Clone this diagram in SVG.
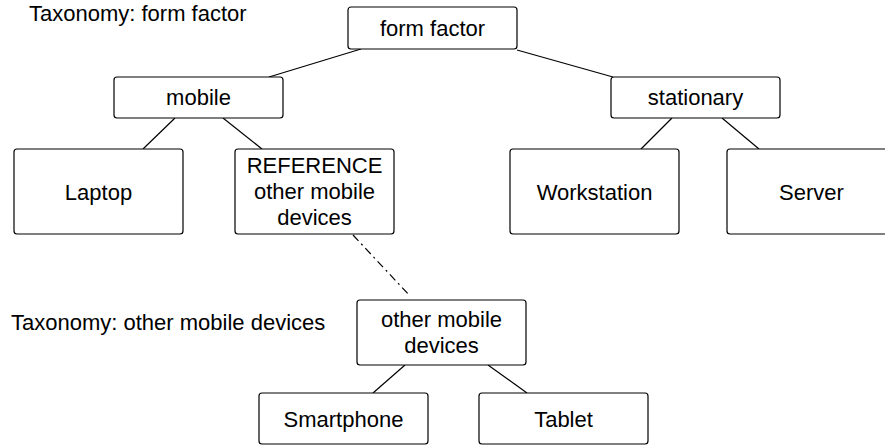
<svg xmlns="http://www.w3.org/2000/svg" width="885" height="446" viewBox="0 0 885 446">
<style>
.box{fill:#fff;stroke:#000;stroke-width:1.2}
.t{font-family:"Liberation Sans",Arial,Helvetica,sans-serif;font-size:22px;fill:#000;text-anchor:middle}
.lbl{font-family:"Liberation Sans",Arial,Helvetica,sans-serif;font-size:22px;fill:#000}
.c{stroke:#000;stroke-width:1.2;fill:none}
.dd{stroke-dasharray:8 4 2 4}
</style>
<rect width="885" height="446" fill="#fff"/>
<g id="connectors">
<line class="c" x1="361" y1="49" x2="269" y2="77"/>
<line class="c" x1="517" y1="50" x2="613" y2="77"/>
<line class="c" x1="175" y1="118" x2="143" y2="149"/>
<line class="c" x1="223" y1="118" x2="262" y2="149"/>
<line class="c" x1="672" y1="118" x2="641" y2="149"/>
<line class="c" x1="722" y1="118" x2="759" y2="149"/>
<line class="c dd" x1="353" y1="235" x2="410" y2="296"/>
<line class="c" x1="405" y1="365" x2="373" y2="393"/>
<line class="c" x1="488" y1="365" x2="527" y2="393"/>
</g>
<g id="label-form-factor"><text class="lbl" x="29" y="20.5">Taxonomy: form factor</text></g>
<g id="label-other"><text class="lbl" x="11" y="330">Taxonomy: other mobile devices</text></g>
<g id="form-factor"><rect class="box" x="348" y="7" width="169" height="42" rx="3"/><text class="t" x="432.5" y="35.5">form factor</text></g>
<g id="mobile"><rect class="box" x="114" y="77" width="169" height="41" rx="3"/><text class="t" x="198.5" y="105">mobile</text></g>
<g id="stationary"><rect class="box" x="611" y="77" width="169" height="41" rx="3"/><text class="t" x="695.5" y="105">stationary</text></g>
<g id="laptop"><rect class="box" x="14" y="149" width="169" height="85" rx="3"/><text class="t" x="98.5" y="200">Laptop</text></g>
<g id="reference"><rect class="box" x="235" y="149" width="159" height="85" rx="3"/><text class="t" x="314.5" y="173">REFERENCE</text><text class="t" x="314.5" y="199">other mobile</text><text class="t" x="314.5" y="225">devices</text></g>
<g id="workstation"><rect class="box" x="510" y="149" width="169" height="85" rx="3"/><text class="t" x="594.5" y="200">Workstation</text></g>
<g id="server"><rect class="box" x="727" y="149" width="169" height="85" rx="3"/><text class="t" x="811.5" y="200">Server</text></g>
<g id="other-mobile-devices"><rect class="box" x="357" y="300" width="169" height="65" rx="3"/><text class="t" x="441.5" y="327">other mobile</text><text class="t" x="441.5" y="353">devices</text></g>
<g id="smartphone"><rect class="box" x="259" y="393" width="169" height="51" rx="3"/><text class="t" x="343.5" y="427">Smartphone</text></g>
<g id="tablet"><rect class="box" x="479" y="393" width="169" height="51" rx="3"/><text class="t" x="563.5" y="427">Tablet</text></g>
</svg>
